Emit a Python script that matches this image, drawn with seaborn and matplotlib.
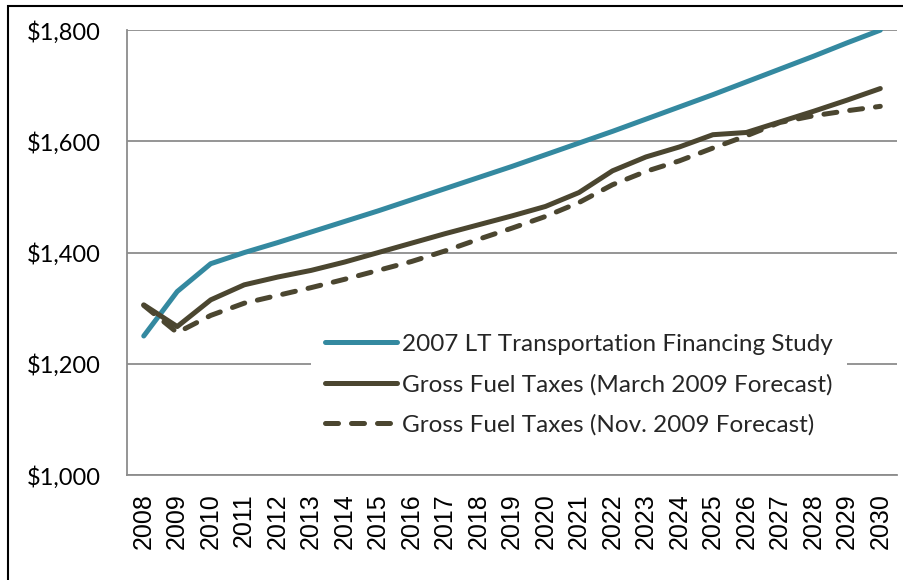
"""
Fuel tax revenue forecasts vs 2007 LT study
"""

import numpy as np
import pandas as pd
import matplotlib
matplotlib.use("Agg")
import matplotlib.pyplot as plt
import seaborn as sns
from matplotlib.patches import Rectangle
from matplotlib.ticker import FuncFormatter, FixedLocator

years = list(range(2008, 2031))

lt_study = [1250, 1330, 1380, 1400, 1418, 1437, 1456, 1475, 1495, 1515, 1535, 1555,
            1576, 1597, 1618, 1640, 1662, 1684, 1707, 1730, 1753, 1777, 1800]
march_2009 = [1306, 1267, 1315, 1342, 1356, 1368, 1383, 1400, 1417, 1434, 1450, 1466,
              1483, 1508, 1547, 1572, 1590, 1612, 1616, 1635, 1654, 1674, 1695]
nov_2009 = [1305, 1256, 1287, 1309, 1323, 1337, 1352, 1368, 1384, 1403, 1424, 1444,
            1465, 1490, 1522, 1546, 1565, 1588, 1610, 1634, 1646, 1655, 1663]

series_names = [
    "2007 LT Transportation Financing Study",
    "Gross Fuel Taxes (March 2009 Forecast)",
    "Gross Fuel Taxes (Nov. 2009 Forecast)",
]
colors = ["#3489A0", "#4B4630", "#4B4630"]

df = pd.DataFrame({
    "year": years * 3,
    "value": lt_study + march_2009 + nov_2009,
    "series": [series_names[0]] * len(years) + [series_names[1]] * len(years)
              + [series_names[2]] * len(years),
})

sns.set_style("white")
fig = plt.figure(figsize=(9.04, 5.8), dpi=100)
ax = fig.add_axes([0.1405, 0.181, 0.8518, 0.767])

sns.lineplot(
    data=df, x="year", y="value", hue="series", style="series",
    palette=dict(zip(series_names, colors)),
    dashes={series_names[0]: "", series_names[1]: "", series_names[2]: (2.6, 2.6)},
    linewidth=3.6, ax=ax, legend=True,
)
for line in ax.get_lines():
    line.set_solid_capstyle("round")
    line.set_dash_capstyle("round")

ax.set_xlim(2007.5, 2030.5)
ax.set_ylim(1000, 1800)
ax.set_yticks(np.arange(1000, 1801, 200))
ax.yaxis.set_major_formatter(FuncFormatter(lambda v, p: f"${v:,.0f}"))
ax.set_xticks(years)
ax.set_xticklabels([str(y) for y in years], rotation=90, fontsize=18,
                   family="Liberation Sans", color="black")
ax.xaxis.set_minor_locator(FixedLocator(np.arange(2007.5, 2031, 1)))
ax.tick_params(axis="x", which="major", length=0, pad=13)
ax.tick_params(axis="x", which="minor", length=6, width=1.3, color="#8c8c8c", direction="out")
ax.tick_params(axis="y", length=7, width=1.3, color="#8c8c8c", direction="out", pad=12)
for lab in ax.get_yticklabels():
    lab.set_fontfamily("Lato")
    lab.set_fontsize(17)
    lab.set_color("black")

ax.grid(axis="y", color="#8c8c8c", linewidth=1.3)
ax.set_axisbelow(True)
for side in ["top", "right"]:
    ax.spines[side].set_visible(False)
for side in ["left", "bottom"]:
    ax.spines[side].set_color("#8c8c8c")
    ax.spines[side].set_linewidth(1.3)

ax.set_xlabel("")
ax.set_ylabel("")

leg = ax.legend(
    loc="upper left", bbox_to_anchor=(0.223, 0.378), frameon=True, framealpha=1,
    edgecolor="white", fancybox=False, handlelength=2.95, handletextpad=0.2,
    labelspacing=0.78, prop={"family": "Lato", "size": 17.5}, borderpad=0.6,
)
leg.get_frame().set_linewidth(0)

# outer border
fig.patches.append(Rectangle((8 / 904, -0.5), 2, 1.5 - 6 / 580, transform=fig.transFigure,
                             fill=False, edgecolor="black", linewidth=1.5))

fig.savefig("out.png", dpi=100)
